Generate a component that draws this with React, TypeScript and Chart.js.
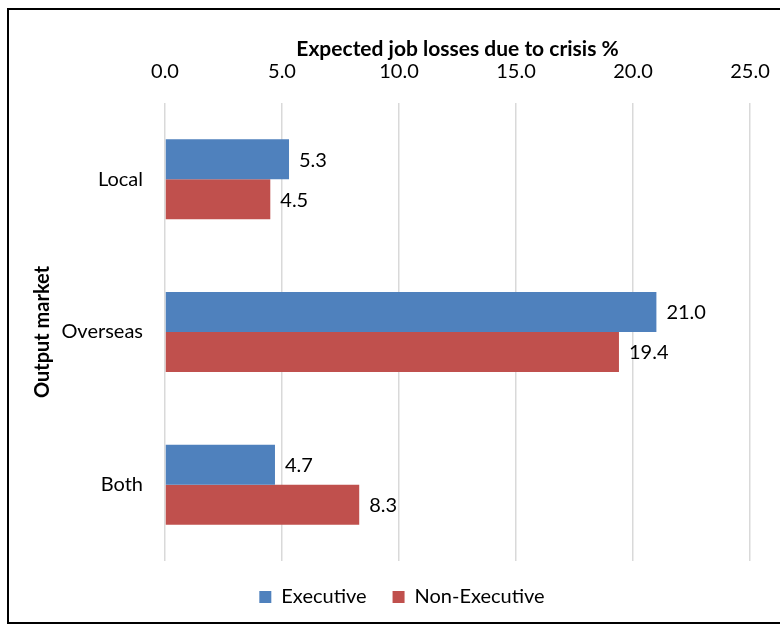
import React, { useEffect, useRef } from "react";
import { Chart, registerables } from "chart.js";

Chart.register(...registerables);

const categories = ["Local", "Overseas", "Both"];
const executive = [5.3, 21.0, 4.7];
const nonExecutive = [4.5, 19.4, 8.3];
const seriesNames = ["Executive", "Non-Executive"];
const xTicks = [0, 5, 10, 15, 20, 25];

const FONT = "Lato, 'Open Sans', sans-serif";

const dataLabels = {
  id: "dataLabels",
  afterDatasetsDraw(chart: any) {
    const ctx = chart.ctx;
    ctx.save();
    ctx.font = `20px ${FONT}`;
    ctx.fillStyle = "#000";
    ctx.textAlign = "left";
    ctx.textBaseline = "middle";
    chart.data.datasets.forEach((ds: any, di: number) => {
      const meta = chart.getDatasetMeta(di);
      meta.data.forEach((bar: any, i: number) => {
        ctx.fillText(Number(ds.data[i]).toFixed(1), bar.x + 10, bar.y + 1);
      });
    });
    ctx.restore();
  },
};

export default function App() {
  const ref = useRef<HTMLCanvasElement>(null);
  useEffect(() => {
    document.body.style.margin = "0";
    document.body.style.overflow = "hidden";
    const chart = new Chart(ref.current!, {
      type: "bar",
      data: {
        labels: categories,
        datasets: [
          { label: seriesNames[0], data: executive, backgroundColor: "#4F81BD" },
          { label: seriesNames[1], data: nonExecutive, backgroundColor: "#C0504D" },
        ],
      },
      options: {
        indexAxis: "y",
        animation: false,
        responsive: false,
        devicePixelRatio: 1,
        layout: { padding: { left: 0, right: 0, top: 0, bottom: 5 } },
        datasets: { bar: { categoryPercentage: 0.524, barPercentage: 1.0 } },
        scales: {
          x: {
            position: "top",
            min: 0,
            max: 25,
            afterBuildTicks: (s: any) => {
              s.ticks = xTicks.map((v) => ({ value: v }));
            },
            afterFit: (s: any) => {
              s.height = 93;
            },
            grid: { color: "#d9d9d9", lineWidth: 1.5, drawTicks: false },
            border: { display: false },
            ticks: {
              color: "#000",
              font: { family: FONT, size: 20 },
              padding: 19,
              callback: (v: any) => Number(v).toFixed(1),
            },
            title: {
              display: true,
              text: "Expected job losses due to crisis %",
              color: "#000",
              font: { family: FONT, size: 21, weight: "bold" },
              padding: { top: 27, bottom: 0 },
            },
          },
          y: {
            afterFit: (s: any) => {
              s.width = 156;
            },
            grid: { display: false, drawTicks: false },
            border: { display: false },
            ticks: { color: "#000", font: { family: FONT, size: 20 }, padding: 22 },
            title: {
              display: true,
              text: "Output market",
              color: "#000",
              font: { family: FONT, size: 20, weight: "bold" },
              padding: { top: 22, bottom: 0 },
            },
          },
          yRight: {
            type: "category",
            position: "right",
            afterFit: (s: any) => {
              s.width = 45;
            },
            grid: { display: false, drawTicks: false },
            border: { display: false },
            ticks: { display: false },
          },
        },
        plugins: {
          legend: {
            position: "bottom",
            labels: {
              color: "#000",
              font: { family: FONT, size: 20 },
              boxWidth: 12,
              boxHeight: 12,
              padding: 26,
            },
          },
          tooltip: { enabled: false },
        },
      },
      plugins: [dataLabels],
    });
    return () => chart.destroy();
  }, []);
  return (
    <div
      style={{
        position: "absolute",
        left: 7,
        top: 8,
        width: 790,
        height: 616,
        border: "2px solid #000",
        boxSizing: "border-box",
        overflow: "hidden",
        background: "#fff",
      }}
    >
      <canvas ref={ref} width={786} height={612} style={{ display: "block" }} />
    </div>
  );
}
